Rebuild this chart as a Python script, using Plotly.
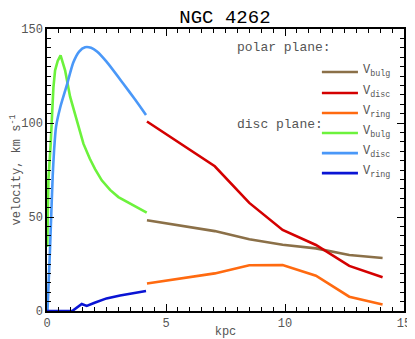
import plotly.graph_objects as go

# polar plane components (r in kpc, v in km/s)
polar_r = [4.2, 7.05, 8.5, 9.9, 11.3, 12.7, 14.1]
polar_bulg = [48.3, 42.5, 38.2, 35.2, 33.3, 29.8, 28.2]
polar_disc = [100.8, 77.0, 57.5, 43.1, 35.1, 24.0, 17.9]
polar_ring = [14.6, 20.0, 24.3, 24.4, 18.8, 7.6, 3.5]

# disc plane components
disc_bulg_r = [0.01, 0.06, 0.15, 0.22, 0.27, 0.34, 0.45, 0.57, 0.76, 0.97,
               1.25, 1.53, 1.8, 2.02, 2.3, 2.65, 3.0, 3.49, 3.85, 4.19]
disc_bulg = [34, 70, 88, 108, 119, 128, 133, 136, 128, 114,
             101.6, 89, 81, 75.5, 69.5, 64.4, 60.6, 57.0, 54.5, 52.3]
disc_disc_r = [0.02, 0.13, 0.24, 0.3, 0.38, 0.55, 0.83, 1.1, 1.35, 1.6,
               1.85, 2.1, 2.5, 3.2, 3.7, 4.16]
disc_disc = [0, 34, 72, 86, 98, 108, 120, 132, 138, 140.3,
             140, 138, 132.6, 121, 112.5, 104.3]
disc_ring_r = [0, 1.06, 1.46, 1.67, 2.0, 2.5, 3.07, 3.63, 4.16]
disc_ring = [0, 0, 3.7, 2.7, 4.4, 6.7, 8.2, 9.4, 10.6]

colors = {
    "p_bulg": "#8b7048",
    "p_disc": "#d40000",
    "p_ring": "#ff6a10",
    "d_bulg": "#6cf23c",
    "d_disc": "#4a98f8",
    "d_ring": "#0a14d4",
}

font = "Courier New, Liberation Mono, monospace"
grey = "#555555"

fig = go.Figure()

series = [
    (polar_r, polar_bulg, "p_bulg", "linear"),
    (polar_r, polar_disc, "p_disc", "linear"),
    (polar_r, polar_ring, "p_ring", "linear"),
    (disc_bulg_r, disc_bulg, "d_bulg", "linear"),
    (disc_disc_r, disc_disc, "d_disc", "spline"),
    (disc_ring_r, disc_ring, "d_ring", "linear"),
]
for x, y, key, shape in series:
    fig.add_trace(go.Scatter(
        x=x, y=y, mode="lines",
        line=dict(color=colors[key], width=2.6, shape=shape, smoothing=0.6),
        showlegend=False, cliponaxis=False,
    ))

# hand-made legend to mimic the original layout
legend_rows = [
    ("p_bulg", "bulg"), ("p_disc", "disc"), ("p_ring", "ring"),
    ("d_bulg", "bulg"), ("d_disc", "disc"), ("d_ring", "ring"),
]
row_y = [0.8475, 0.773, 0.702, 0.631, 0.560, 0.489]
for (key, sub), yy in zip(legend_rows, row_y):
    fig.add_shape(type="line", xref="paper", yref="paper",
                  x0=0.770, x1=0.871, y0=yy, y1=yy,
                  line=dict(color=colors[key], width=2.6))
    fig.add_annotation(xref="paper", yref="paper", x=0.88, y=yy + 0.005,
                       xanchor="left", yanchor="middle", showarrow=False,
                       text=f"V<sub>{sub}</sub>",
                       font=dict(family=font, size=12, color=grey))

fig.add_annotation(xref="paper", yref="paper", x=0.528, y=0.933,
                   xanchor="left", yanchor="middle", showarrow=False,
                   text="polar plane:", font=dict(family=font, size=13, color=grey))
fig.add_annotation(xref="paper", yref="paper", x=0.528, y=0.663,
                   xanchor="left", yanchor="middle", showarrow=False,
                   text="disc plane:", font=dict(family=font, size=13, color=grey))

axis_common = dict(
    showline=True, linecolor="black", linewidth=1.5,
    ticks="inside", ticklen=7, tickcolor="black", tickwidth=1,
    showgrid=False, zeroline=False, automargin=False,
    tickfont=dict(family=font, size=12, color=grey),
)
xminor = dict(dtick=0.5, ticks="inside", ticklen=4, tickcolor="black")
yminor = dict(dtick=5, ticks="inside", ticklen=4, tickcolor="black")

fig.update_layout(
    xaxis=dict(
        range=[0, 15], dtick=5, minor=xminor,
        title=dict(text="kpc", standoff=0,
                   font=dict(family=font, size=12, color=grey)),
        **axis_common,
    ),
    yaxis=dict(
        range=[0, 150], dtick=50, minor=yminor,
        title=dict(text="velocity, km s<sup>-1</sup>", standoff=6,
                   font=dict(family=font, size=12, color=grey)),
        **axis_common,
    ),
    # mirrored frame with its own ticks on top and right
    xaxis2=dict(
        range=[0, 15], dtick=5, minor=xminor, overlaying="x", side="top",
        anchor="y", showticklabels=False, **axis_common,
    ),
    yaxis2=dict(
        range=[0, 150], dtick=50, minor=yminor, overlaying="y", side="right",
        anchor="x", showticklabels=False, **axis_common,
    ),
)
# an empty trace to activate the mirrored axes
fig.add_trace(go.Scatter(x=[], y=[], xaxis="x2", yaxis="y2", showlegend=False))

# the page body adds an 8px offset, so the figure is 8px smaller and shifted
fig.update_layout(
    width=407, height=331,
    margin=dict(l=39, r=11, t=21, b=28),
    plot_bgcolor="white", paper_bgcolor="white",
    title=dict(text="NGC 4262", x=0.533, xanchor="center", y=0.975,
               yanchor="middle", font=dict(family=font, size=19, color="black")),
)

fig.write_html("out.html")
